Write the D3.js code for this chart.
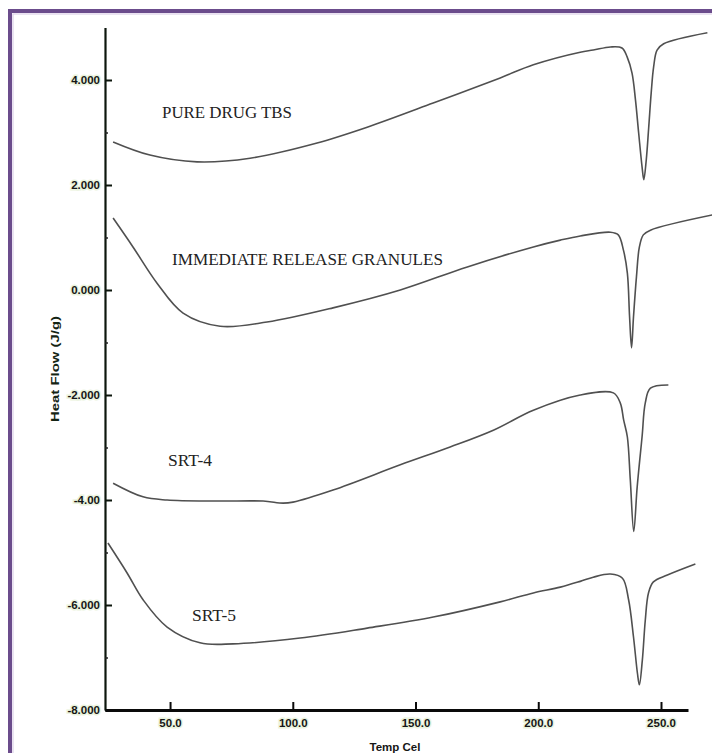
<!DOCTYPE html>
<html>
<head>
<meta charset="utf-8">
<script src="https://cdn.jsdelivr.net/npm/d3@7/dist/d3.min.js"></script>
<style>
  body { margin: 0; background: #fff; }
  svg { display: block; }
</style>
</head>
<body>
<svg id="chart"></svg>
<script>
const width = 712;
const height = 753;

// series data (temperature in C, heat flow in J/g)
const seriesNames = ["PURE DRUG TBS", "IMMEDIATE RELEASE GRANULES", "SRT-4", "SRT-5"];

const pureTemp = [26.8, 41.8, 61.0, 82.6, 109.9, 130.3, 157.2, 184.5, 198.0, 217.1, 222.4, 229.4,
  234.1, 236.2, 238.2, 239.6, 240.9, 242.3, 243.0, 244.0, 245.0, 246.0, 247.0, 248.4, 251.1, 268.9];
const pureFlow = [2.82, 2.57, 2.44, 2.51, 2.80, 3.10, 3.56, 4.04, 4.29, 4.53, 4.57, 4.63,
  4.61, 4.44, 4.13, 3.62, 2.99, 2.34, 2.10, 2.48, 3.10, 3.75, 4.25, 4.57, 4.69, 4.90];

const irgTemp = [26.8, 34.9, 44.7, 55.3, 70.4, 89.5, 116.4, 143.8, 171.1, 198.0, 209.0, 217.1,
  229.4, 232.6, 234.7, 236.3, 237.2, 238.0, 238.8, 240.0, 241.2, 242.8, 245.7, 271.0];
const irgFlow = [1.37, 0.82, 0.13, -0.44, -0.69, -0.61, -0.34, 0.00, 0.44, 0.82, 0.95, 1.03,
  1.10, 1.05, 0.76, 0.32, -0.51, -1.10, -0.51, 0.25, 0.82, 1.05, 1.14, 1.43];

const srt4Temp = [26.8, 39.0, 48.8, 69.2, 87.9, 96.1, 100.1, 116.4, 143.8, 164.1, 181.7, 198.0,
  217.1, 230.6, 233.4, 234.8, 236.3, 237.5, 238.9, 240.3, 242.3, 243.6, 245.7, 253.0];
const srt4Flow = [-3.68, -3.94, -4.00, -4.02, -4.02, -4.06, -4.04, -3.81, -3.33, -2.99, -2.67, -2.29,
  -2.00, -1.96, -2.15, -2.48, -2.80, -3.62, -4.60, -3.75, -2.79, -2.15, -1.87, -1.81];

const srt5Temp = [24.7, 32.5, 39.0, 48.8, 62.2, 75.7, 103.0, 130.3, 157.2, 184.5, 198.0, 209.0,
  217.1, 222.4, 229.4, 234.3, 236.8, 238.8, 240.4, 241.2, 242.4, 243.6, 244.9, 246.9, 252.6, 264.0];
const srt5Flow = [-4.82, -5.39, -5.90, -6.42, -6.72, -6.74, -6.63, -6.44, -6.23, -5.94, -5.77, -5.66,
  -5.55, -5.47, -5.41, -5.49, -5.90, -6.61, -7.30, -7.52, -7.05, -6.29, -5.77, -5.56, -5.43, -5.22];

// axis ticks
const xTicks = [50, 100, 150, 200, 250];
const yTicks = [-8, -6, -4, -2, 0, 2, 4];
const yTickLabels = ["-8.000", "-6.000", "-4.00", "-2.000", "0.000", "2.000", "4.000"];
const yMinorTicks = [-7, -5, -3, -1, 1, 3];

const svg = d3.select("#chart")
    .attr("width", width)
    .attr("height", height);

svg.append("rect")
    .attr("width", width)
    .attr("height", height)
    .attr("fill", "#fff");

// purple frame round the figure
svg.append("rect")
    .attr("x", 10).attr("y", 11)
    .attr("width", 730).attr("height", 780)
    .attr("fill", "none")
    .attr("stroke", "#6b4c8c")
    .attr("stroke-width", 4);
svg.append("rect")
    .attr("x", 13).attr("y", 14)
    .attr("width", 730).attr("height", 780)
    .attr("fill", "none")
    .attr("stroke", "#ddd0e8")
    .attr("stroke-width", 1.2);

const x = d3.scaleLinear()
    .domain([23.5, 261])
    .range([105, 688]);

const y = d3.scaleLinear()
    .domain([-8, 5])
    .range([710, 27.5]);

const line = d3.line()
    .x(d => x(d[0]))
    .y(d => y(d[1]))
    .curve(d3.curveCatmullRom.alpha(0.5));

const allSeries = [
  d3.zip(pureTemp, pureFlow),
  d3.zip(irgTemp, irgFlow),
  d3.zip(srt4Temp, srt4Flow),
  d3.zip(srt5Temp, srt5Flow)
];

svg.selectAll("path.curve")
    .data(allSeries)
    .enter()
    .append("path")
    .attr("class", "curve")
    .attr("d", line)
    .attr("fill", "none")
    .attr("stroke", "#505050")
    .attr("stroke-width", 1.6)
    .attr("stroke-linejoin", "round");

// Y axis
const yAxis = svg.append("g")
    .attr("transform", "translate(" + x.range()[0] + ",0)")
    .call(d3.axisLeft(y)
        .tickValues(yTicks)
        .tickSizeInner(-7)
        .tickSizeOuter(0)
        .tickPadding(5)
        .tickFormat((d, i) => yTickLabels[i]));
yAxis.select(".domain").attr("stroke", "#0d160d").attr("stroke-width", 2.2);
yAxis.selectAll(".tick line").attr("stroke", "#0d160d").attr("stroke-width", 2);

svg.append("g")
    .attr("transform", "translate(" + x.range()[0] + ",0)")
    .call(d3.axisLeft(y).tickValues(yMinorTicks).tickSizeInner(-3).tickSizeOuter(0).tickFormat(""))
    .call(g => g.select(".domain").remove())
    .selectAll(".tick line").attr("stroke", "#222").attr("stroke-width", 1.5);

// X axis
const xAxis = svg.append("g")
    .attr("transform", "translate(0," + y(-8) + ")")
    .call(d3.axisBottom(x)
        .tickValues(xTicks)
        .tickSizeInner(-8)
        .tickSizeOuter(0)
        .tickPadding(9)
        .tickFormat(d3.format(".1f")));
xAxis.select(".domain").attr("stroke", "#0a0a0a").attr("stroke-width", 3);
xAxis.selectAll(".tick line").attr("stroke", "#0a0a0a").attr("stroke-width", 2);

svg.selectAll(".tick text")
    .attr("font-family", "Liberation Sans, Arial, sans-serif")
    .attr("font-weight", "bold")
    .attr("font-size", 11.5)
    .attr("fill", "#161616")
    .attr("stroke", "#eaf3dd")
    .attr("stroke-width", 3)
    .attr("paint-order", "stroke");

// axis titles
svg.append("text")
    .attr("x", 395)
    .attr("y", 751)
    .attr("text-anchor", "middle")
    .attr("font-family", "Liberation Sans, Arial, sans-serif")
    .attr("font-weight", "bold")
    .attr("font-size", 11.5)
    .attr("fill", "#161616")
    .text("Temp Cel");

svg.append("text")
    .attr("transform", "translate(59,369) rotate(-90)")
    .attr("text-anchor", "middle")
    .attr("font-family", "Liberation Sans, Arial, sans-serif")
    .attr("font-weight", "bold")
    .attr("font-size", 11.5)
    .attr("fill", "#142414")
    .attr("textLength", 106)
    .attr("lengthAdjust", "spacingAndGlyphs")
    .text("Heat Flow (J/g)");

// curve labels
const labelX = [162, 172, 168, 192];
const labelY = [118, 265, 466, 621];
const labelLen = [130, 271, 44, 44];

svg.selectAll("text.curve-label")
    .data(seriesNames)
    .enter()
    .append("text")
    .attr("class", "curve-label")
    .attr("x", (d, i) => labelX[i])
    .attr("y", (d, i) => labelY[i])
    .attr("font-family", "Liberation Serif, Times New Roman, serif")
    .attr("font-size", 16)
    .attr("fill", "#222")
    .attr("textLength", (d, i) => labelLen[i])
    .attr("lengthAdjust", "spacingAndGlyphs")
    .text(d => d);
</script>
</body>
</html>
